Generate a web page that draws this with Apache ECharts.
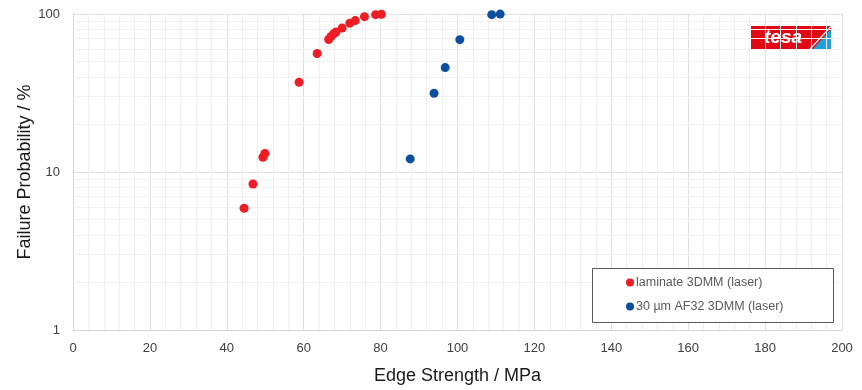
<!DOCTYPE html>
<html>
<head>
<meta charset="utf-8">
<script src="https://cdn.jsdelivr.net/npm/echarts@6/dist/echarts.min.js"></script>
<style>
  html, body { margin: 0; padding: 0; background: #fff; }
  #chart { width: 862px; height: 390px; }
</style>
</head>
<body>
<div id="chart"></div>
<script>
// edge strength (MPa) / failure probability (%)
var laminateX = [44.5, 46.8, 49.4, 49.9, 58.8, 63.5, 66.5, 67.1, 67.8, 68.4, 70.0, 72.0, 73.4, 75.8, 78.7, 80.2];
var laminateY = [5.9, 8.4, 12.4, 13.1, 37.0, 56.2, 69.0, 72.1, 75.0, 76.9, 81.4, 87.5, 90.8, 96.2, 99.0, 99.7];
var af32X = [87.7, 93.9, 96.8, 100.6, 108.9, 111.1];
var af32Y = [12.1, 31.5, 45.8, 68.8, 99.0, 99.9];
var seriesNames = ['laminate 3DMM (laser)', '30 µm AF32 3DMM (laser)'];
var logMinorY = [2, 3, 4, 5, 6, 7, 8, 9, 20, 30, 40, 50, 60, 70, 80, 90];

function pairs(xs, ys) {
  return xs.map(function (x, i) { return [x, ys[i]]; });
}

var chart = echarts.init(document.getElementById('chart'));
var option = {
  animation: false,
  textStyle: { fontFamily: 'Liberation Sans, Arial, sans-serif' },
  grid: { left: 73, right: 20, top: 14, bottom: 55.5 },
  xAxis: {
    type: 'value', min: 0, max: 200, interval: 20,
    name: 'Edge Strength / MPa', nameLocation: 'middle', nameGap: 37,
    nameTextStyle: { fontSize: 18, color: '#1a1a1a' },
    axisLine: { show: true, lineStyle: { color: '#d6d6d6' } },
    axisTick: { show: false },
    axisLabel: { fontSize: 13, color: '#404040', margin: 12 },
    splitLine: { show: true, lineStyle: { color: '#e0e0e0' } },
    minorTick: { show: false, splitNumber: 5 },
    minorSplitLine: { show: true, lineStyle: { color: '#f0f0f0' } }
  },
  yAxis: {
    type: 'log', logBase: 10, min: 1, max: 100, interval: 1,
    name: 'Failure Probability / %', nameLocation: 'middle', nameGap: 39,
    nameMoveOverlap: false,
    nameTextStyle: { fontSize: 18, color: '#1a1a1a' },
    axisLine: { show: true, lineStyle: { color: '#d6d6d6' } },
    axisTick: { show: false },
    axisLabel: { fontSize: 13, color: '#404040', margin: 13 },
    splitLine: { show: true, lineStyle: { color: '#e0e0e0' } }
  },
  legend: {
    data: seriesNames,
    orient: 'vertical', left: 621, top: 271,
    icon: 'circle', itemWidth: 8, itemHeight: 8, itemGap: 11,
    textStyle: { fontSize: 12.5, color: '#595959', padding: [0, 0, 0, -3] },
    selectedMode: false
  },
  graphic: [
    { type: 'rect', left: 592, top: 268, shape: { width: 241, height: 54 },
      style: { fill: '#ffffff', stroke: '#595959', lineWidth: 1 }, z: 3 },
    { type: 'group', left: 751, top: 24, z: 10, children: [
      { type: 'rect', shape: { x: 0, y: 0, width: 80, height: 23 }, style: { fill: '#e30613' } },
      { type: 'polygon', shape: { points: [[62, 23], [80, 23], [80, 3]] }, style: { fill: '#1ea0dc' } },
      { type: 'polyline', shape: { points: [[59, 23], [80, 0.5]] }, style: { stroke: '#ffffff', lineWidth: 1.2 } },
      { type: 'text', x: 32, y: 12, style: { text: 'tesa', fill: '#ffffff', font: 'italic bold 19px Liberation Sans, Arial, sans-serif', align: 'center', verticalAlign: 'middle' } }
    ] }
  ],
  series: [
    {
      name: '', type: 'scatter', data: [], z: 1, silent: true,
      markLine: {
        z: 1, silent: true, symbol: 'none', animation: false,
        label: { show: false },
        lineStyle: { color: '#f0f0f0', width: 1, type: 'solid' },
        data: logMinorY.map(function (v) { return { yAxis: v }; })
      }
    },
    {
      name: seriesNames[0], type: 'scatter', symbolSize: 9, z: 6,
      itemStyle: { color: '#ee1c25', opacity: 1 },
      data: pairs(laminateX, laminateY)
    },
    {
      name: seriesNames[1], type: 'scatter', symbolSize: 9, z: 6,
      itemStyle: { color: '#0d4f9f', opacity: 1 },
      data: pairs(af32X, af32Y)
    }
  ]
};
chart.setOption(option);
</script>
</body>
</html>
